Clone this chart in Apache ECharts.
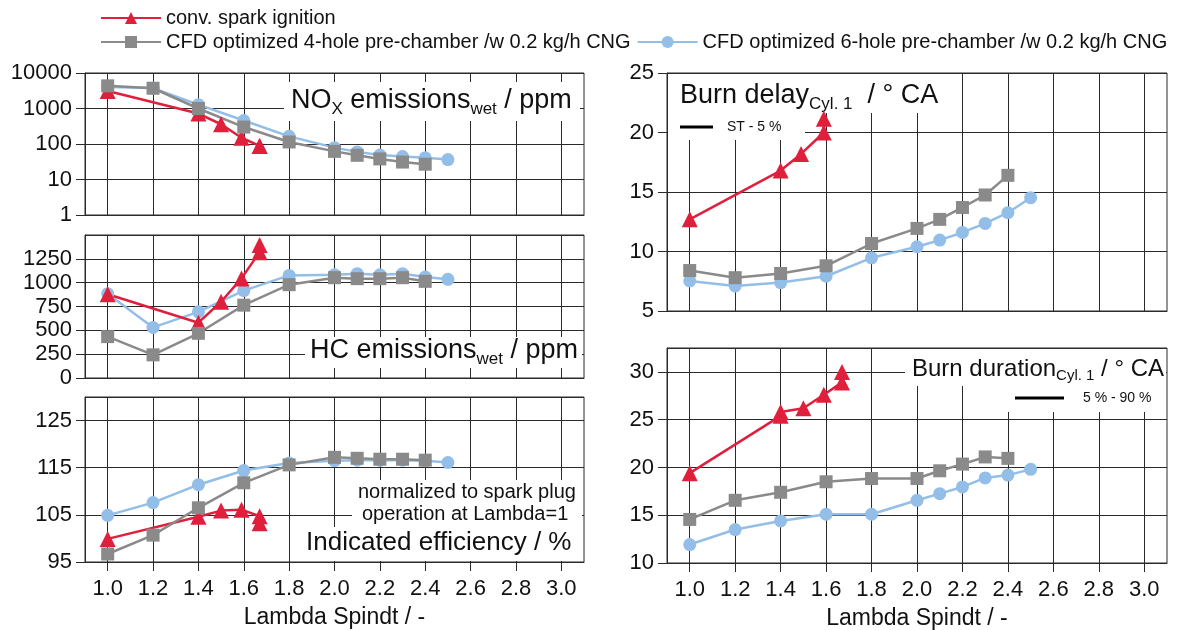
<!DOCTYPE html>
<html>
<head>
<meta charset="utf-8">
<script src="https://cdn.jsdelivr.net/npm/echarts@6/dist/echarts.min.js"></script>
<style>
  html, body { margin: 0; padding: 0; background: #fff; }
  #chart { width: 1188px; height: 630px; }
</style>
</head>
<body>
<div id="chart"></div>
<script>
  // x axis ticks (Lambda Spindt)
  const lambdaTicks = [1.0, 1.2, 1.4, 1.6, 1.8, 2.0, 2.2, 2.4, 2.6, 2.8, 3.0];

  // lambda of each measured point
  const lambdaSpark = [1.0, 1.4, 1.5, 1.59, 1.67, 1.67];
  const lambdaSparkDelay = [1.0, 1.4, 1.49, 1.59, 1.59];
  const lambdaSparkDuration = [1.0, 1.4, 1.4, 1.5, 1.59, 1.67, 1.67];
  const lambda4Hole = [1.0, 1.2, 1.4, 1.6, 1.8, 2.0, 2.1, 2.2, 2.3, 2.4];
  const lambda6Hole = [1.0, 1.2, 1.4, 1.6, 1.8, 2.0, 2.1, 2.2, 2.3, 2.4, 2.5];

  // NOx emissions wet / ppm
  const noxSpark = [3100, 720, 360, 150, 88, 88];
  const nox4Hole = [4350, 3720, 1000, 300, 114, 62, 48, 38, 31, 27];
  const nox6Hole = [4060, 3750, 1280, 460, 164, 79, 60, 49, 44.5, 41, 36.5];

  // HC emissions wet / ppm
  const hcSpark = [878, 580, 800, 1045, 1320, 1395];
  const hc4Hole = [434, 243, 469, 764, 979, 1052, 1042, 1042, 1052, 1014];
  const hc6Hole = [885, 531, 694, 917, 1076, 1083, 1094, 1083, 1094, 1059, 1035];

  // indicated efficiency / %
  const effSpark = [99.9, 104.6, 105.9, 106.1, 104.7, 103.2];
  const eff4Hole = [96.7, 100.7, 106.5, 111.8, 115.6, 117.2, 117.0, 116.8, 116.8, 116.6];
  const eff6Hole = [104.9, 107.6, 111.4, 114.4, 116.0, 116.5, 116.6, 116.6, 116.6, 116.5, 116.1];

  // burn delay / deg CA
  const delaySpark = [12.7, 16.8, 18.2, 20.0, 21.15];
  const delay4Hole = [8.4, 7.8, 8.15, 8.8, 10.67, 11.94, 12.7, 13.7, 14.75, 16.4];
  const delay6Hole = [7.53, 7.1, 7.39, 7.92, 9.47, 10.4, 10.96, 11.6, 12.36, 13.26, 14.52];

  // burn duration / deg CA
  const durSpark = [19.4, 25.4, 25.8, 26.2, 27.6, 28.9, 30.0];
  const dur4Hole = [14.56, 16.56, 17.4, 18.5, 18.84, 18.84, 19.65, 20.35, 21.1, 20.95];
  const dur6Hole = [11.93, 13.5, 14.4, 15.1, 15.1, 16.56, 17.26, 17.96, 18.9, 19.2, 19.8];

  const nameSpark = "conv. spark ignition";
  const name4Hole = "CFD optimized 4-hole pre-chamber /w 0.2 kg/h CNG";
  const name6Hole = "CFD optimized 6-hole pre-chamber /w 0.2 kg/h CNG";

  const F = "Liberation Sans, Arial, sans-serif";
  const INK = "#111";
  const LINE = "#2a2a2a";

  const zip = (xs, ys) => xs.map((x, i) => [x, ys[i]]);

  const chart = echarts.init(document.getElementById("chart"));

  const grids = [
    { left: 85, top: 73, width: 499, height: 142 },
    { left: 85, top: 235, width: 499, height: 143 },
    { left: 85, top: 397, width: 499, height: 165 },
    { left: 667, top: 73, width: 500, height: 238 },
    { left: 667, top: 348, width: 500, height: 215 },
  ].map((g) =>
    Object.assign({ show: true, borderColor: LINE, borderWidth: 1, containLabel: false, outerBoundsMode: "none" }, g)
  );

  function xAxis(gridIndex, withLabels) {
    return {
      type: "value",
      gridIndex: gridIndex,
      min: 0.9,
      max: 3.1,
      axisLine: { show: true, onZero: false, lineStyle: { color: LINE, width: 1 } },
      axisTick: {
        show: withLabels,
        customValues: lambdaTicks,
        length: 9,
        lineStyle: { color: LINE },
      },
      axisLabel: {
        show: withLabels,
        customValues: lambdaTicks,
        formatter: (v) => v.toFixed(1),
        margin: 16,
        fontSize: 22,
        color: INK,
        fontFamily: F,
      },
      splitLine: { show: true, lineStyle: { color: LINE, width: 1 } },
      name: withLabels ? "Lambda Spindt / -" : "",
      nameLocation: "middle",
      nameGap: 44,
      nameTextStyle: { fontSize: 23, color: INK, fontFamily: F },
    };
  }

  function yAxis(gridIndex, type, min, max, interval, showMax) {
    const ax = {
      type: type,
      gridIndex: gridIndex,
      min: min,
      max: max,
      axisLine: { show: true, onZero: false, lineStyle: { color: LINE, width: 1 } },
      axisTick: { show: true, length: 9, lineStyle: { color: LINE } },
      axisLabel: {
        fontSize: 22,
        color: INK,
        fontFamily: F,
        margin: 13,
        showMaxLabel: showMax,
        formatter: (v) => String(v),
      },
      splitLine: { show: true, lineStyle: { color: LINE, width: 1 } },
    };
    if (type === "log") ax.logBase = 10;
    else ax.interval = interval;
    return ax;
  }

  const styles = {
    [nameSpark]: { color: "#e01f3d", symbol: "triangle", symbolSize: 16 },
    [name4Hole]: { color: "#8a8a8a", symbol: "rect", symbolSize: 13 },
    [name6Hole]: { color: "#92bee8", symbol: "circle", symbolSize: 13 },
  };

  function line(name, idx, data) {
    const s = styles[name];
    return {
      name: name,
      type: "line",
      xAxisIndex: idx,
      yAxisIndex: idx,
      data: data,
      symbol: s.symbol,
      symbolSize: s.symbolSize,
      showAllSymbol: true,
      itemStyle: { color: s.color },
      lineStyle: { color: s.color, width: 2.5 },
      emphasis: { disabled: true },
    };
  }

  const series = [
    line(name6Hole, 0, zip(lambda6Hole, nox6Hole)),
    line(nameSpark, 0, zip(lambdaSpark, noxSpark)),
    line(name4Hole, 0, zip(lambda4Hole, nox4Hole)),
    line(name6Hole, 1, zip(lambda6Hole, hc6Hole)),
    line(nameSpark, 1, zip(lambdaSpark, hcSpark)),
    line(name4Hole, 1, zip(lambda4Hole, hc4Hole)),
    line(name6Hole, 2, zip(lambda6Hole, eff6Hole)),
    line(nameSpark, 2, zip(lambdaSpark, effSpark)),
    line(name4Hole, 2, zip(lambda4Hole, eff4Hole)),
    line(name6Hole, 3, zip(lambda6Hole, delay6Hole)),
    line(nameSpark, 3, zip(lambdaSparkDelay, delaySpark)),
    line(name4Hole, 3, zip(lambda4Hole, delay4Hole)),
    line(name6Hole, 4, zip(lambda6Hole, dur6Hole)),
    line(nameSpark, 4, zip(lambdaSparkDuration, durSpark)),
    line(name4Hole, 4, zip(lambda4Hole, dur4Hole)),
  ];

  // white boxes behind the panel captions
  function box(x, y, w, h) {
    return { type: "rect", z: 1, silent: true, shape: { x: x, y: y, width: w, height: h }, style: { fill: "#fff" } };
  }
  function caption(x, y, text, big, small) {
    return {
      type: "text",
      z: 1.5,
      silent: true,
      x: x,
      y: y,
      style: {
        text: text,
        fontSize: big,
        fontFamily: F,
        fill: INK,
        align: "left",
        verticalAlign: "middle",
        rich: {
          m: { fontSize: big, fontFamily: F, fill: INK },
          s: { fontSize: small, fontFamily: F, fill: INK, padding: [Math.round(small * 0.95), 0, 0, 0] },
        },
      },
    };
  }
  function sample(x1, x2, y) {
    return { type: "line", z: 1.5, silent: true, shape: { x1: x1, y1: y, x2: x2, y2: y }, style: { stroke: "#000", lineWidth: 3 } };
  }

  const graphic = [
    box(284, 82, 296, 39),
    caption(291, 101, "{m|NO}{s|X}{m| emissions}{s|wet}{m| / ppm}", 27, 17),
    box(305, 337, 277, 31),
    caption(310, 351, "{m|HC emissions}{s|wet}{m| / ppm}", 27, 17),
    box(352, 480, 230, 47),
    box(300, 527, 282, 34),
    caption(358, 492, "normalized to spark plug", 20, 14),
    caption(362, 514, "operation at Lambda=1", 20, 14),
    caption(306, 543, "Indicated efficiency / %", 26, 16),
    box(668, 74, 267, 39),
    box(668, 113, 137, 27),
    caption(680, 96, "{m|Burn delay}{s|Cyl. 1}{m|  / ° CA}", 27, 17),
    sample(680, 713, 127),
    caption(727, 127, "ST - 5 %", 14, 10),
    box(905, 349, 261, 37),
    box(1000, 386, 166, 26),
    caption(912, 369, "{m|Burn duration}{s|Cyl. 1}{m| / ° CA}", 24, 15),
    sample(1015, 1064, 398),
    caption(1083, 398, "5 % - 90 %", 14, 10),
  ];

  const legendBase = {
    left: 95,
    itemWidth: 60,
    itemHeight: 15,
    itemGap: 6,
    textStyle: { fontSize: 20, color: INK, fontFamily: F },
    selectedMode: false,
  };

  chart.setOption({
    animation: false,
    backgroundColor: "#fff",
    legend: [
      Object.assign({ top: 3, data: [nameSpark] }, legendBase),
      Object.assign({ top: 27, data: [name4Hole, name6Hole] }, legendBase),
    ],
    grid: grids,
    xAxis: [xAxis(0, false), xAxis(1, false), xAxis(2, true), xAxis(3, false), xAxis(4, true)],
    yAxis: [
      yAxis(0, "log", 1, 10000, null, true),
      yAxis(1, "value", 0, 1500, 250, false),
      yAxis(2, "value", 95, 130, 10, false),
      yAxis(3, "value", 5, 25, 5, true),
      yAxis(4, "value", 10, 32.5, 5, false),
    ],
    series: series,
    graphic: graphic,
  });
</script>
</body>
</html>
